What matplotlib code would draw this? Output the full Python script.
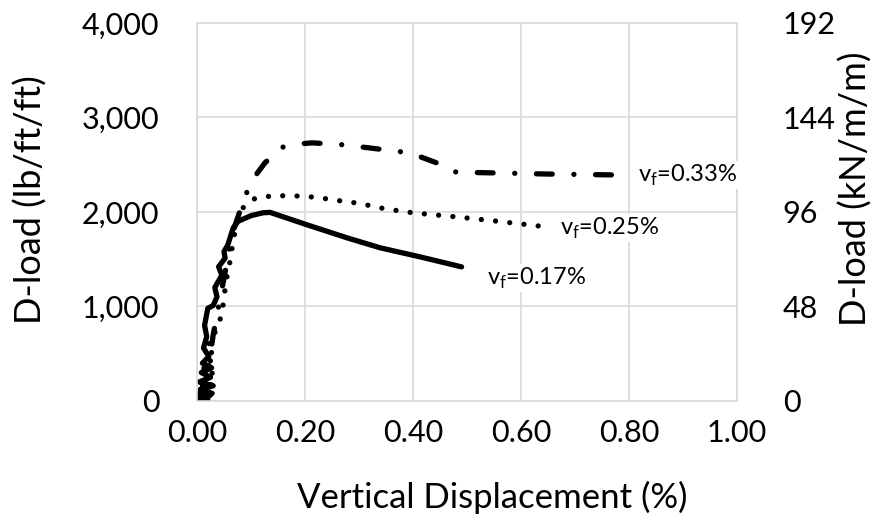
import matplotlib
matplotlib.use('Agg')
import matplotlib.pyplot as plt

plt.rcParams['font.family'] = ['Lato', 'DejaVu Sans']

# vertical displacement (%) and D-load (lb/ft/ft)
x17 = [0.0, 0.02, 0.003, 0.028, 0.006, 0.03, 0.004, 0.025, 0.008, 0.027, 0.01, 0.022,
       0.012, 0.018, 0.014, 0.02,
       0.03, 0.037, 0.033, 0.046, 0.04, 0.052, 0.05, 0.057, 0.067, 0.076, 0.10,
       0.122, 0.135, 0.20, 0.278, 0.339, 0.413, 0.49]
y17 = [0, 20, 50, 80, 120, 160, 200, 250, 300, 350, 400, 470,
       560, 680, 800, 980,
       1010, 1100, 1200, 1330, 1420, 1510, 1580, 1650, 1830, 1900, 1960,
       1990, 1995, 1870, 1725, 1620, 1524, 1418]

x25 = [0.0, 0.025, 0.005, 0.03, 0.01, 0.035, 0.008, 0.03, 0.015, 0.035, 0.02, 0.033,
       0.04, 0.046, 0.05, 0.055,
       0.062, 0.067, 0.075, 0.083, 0.095, 0.107, 0.125, 0.145, 0.178, 0.22, 0.252,
       0.30, 0.35, 0.40, 0.48, 0.55, 0.63, 0.645]
y25 = [0, 60, 110, 160, 220, 280, 330, 400, 470, 540, 620, 720,
       825, 910, 1100, 1300,
       1500, 1700, 1900, 2030, 2100, 2140, 2160, 2170, 2170, 2155, 2127,
       2090, 2030, 1990, 1947, 1905, 1852, 1845]

x33 = [0.0, 0.02, 0.03, 0.04, 0.05, 0.06, 0.07, 0.085, 0.10, 0.126, 0.157, 0.172,
       0.213, 0.27, 0.333, 0.394, 0.444, 0.48, 0.55, 0.65, 0.72, 0.78]
y33 = [0, 300, 700, 1000, 1300, 1600, 1850, 2100, 2320, 2520, 2680, 2710,
       2730, 2710, 2667, 2624, 2518, 2420, 2412, 2400, 2395, 2390]

labels = ['0.17%', '0.25%', '0.33%']
label_x = [0.537, 0.672, 0.817]
label_y = [1300, 1830, 2385]

fig = plt.figure(figsize=(8.76, 5.18), dpi=100)
ax = fig.add_axes([0.2249, 0.226, 0.6164, 0.730])

grid_c = '#d9d9d9'
ax.plot(x17, y17, color='black', lw=3.8, solid_capstyle='round', solid_joinstyle='round')
ax.plot(x25, y25, color='black', lw=3.8, linestyle=(0, (0.01, 2.7)), dash_capstyle='round')
ax.plot(x33, y33, color='black', lw=3.8, linestyle=(0, (3, 4.1, 0.01, 4.1)), dash_capstyle='round')

for lab, lx, ly in zip(labels, label_x, label_y):
    ax.text(lx, ly, r'v$_\mathregular{f}$=' + lab, fontsize=17, va='center', ha='left',
            bbox=dict(facecolor='white', edgecolor='none', pad=1))

ax.set_xlim(0, 1)
ax.set_ylim(0, 4000)
ax.set_xticks([0, 0.2, 0.4, 0.6, 0.8, 1.0])
ax.set_xticklabels(['0.00', '0.20', '0.40', '0.60', '0.80', '1.00'])
ax.set_yticks([0, 1000, 2000, 3000, 4000])
ax.set_yticklabels(['0', '1,000', '2,000', '3,000', '4,000'])
ax.grid(True, color=grid_c, lw=1.2)
ax.set_axisbelow(True)
for s in ax.spines.values():
    s.set_color(grid_c)
    s.set_linewidth(1.2)
ax.tick_params(axis='both', length=0, labelsize=22)
ax.tick_params(axis='y', pad=27)
ax.tick_params(axis='x', pad=13)
ax.set_xlabel('Vertical Displacement (%)', fontsize=25, va='center')
ax.xaxis.set_label_coords(0.546, -0.254)
ax.set_ylabel('D-load (lb/ft/ft)', fontsize=26, va='center')
ax.yaxis.set_label_coords(-0.309, 0.532)

ax2 = ax.twinx()
ax2.set_ylim(0, 192)
ax2.set_yticks([0, 48, 96, 144, 192])
ax2.tick_params(axis='y', length=0, labelsize=22, pad=33)
for s in ax2.spines.values():
    s.set_visible(False)
ax2.set_ylabel('D-load (kN/m/m)', fontsize=26, va='center')
ax2.yaxis.set_label_coords(1.219, 0.56)

fig.savefig('out.png', dpi=100)
